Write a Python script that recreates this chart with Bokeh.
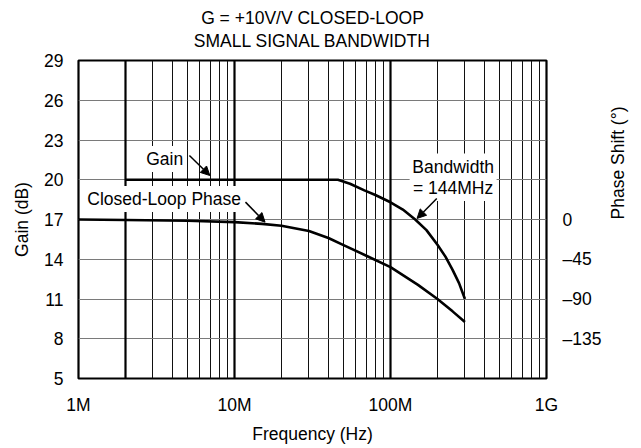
import math
from bokeh.plotting import figure
from bokeh.models import (Range1d, LinearAxis, FixedTicker, Grid, Label, Arrow,
                          NormalHead, Title)
from bokeh.embed import file_html
from bokeh.resources import INLINE

FONT = "Liberation Sans"
FS = "17.5px"

# ---- data ----
gain_freq_hz = [2e6, 5e6, 10e6, 20e6, 40e6, 46e6, 55e6, 68e6, 80e6, 100e6,
                120e6, 144e6, 170e6, 200e6, 225e6, 250e6, 275e6, 300e6]
gain_db = [20, 20, 20, 20, 20, 20, 19.7, 19.2, 18.85, 18.3,
           17.75, 17.0, 16.2, 15.1, 14.2, 13.2, 12.2, 11.0]

phase_freq_hz = [1e6, 2e6, 5e6, 10e6, 15e6, 20e6, 30e6, 40e6, 50e6, 70e6, 100e6,
                 150e6, 200e6, 250e6, 300e6]
phase_deg = [0, -0.5, -1.5, -3, -5, -7, -13, -21, -29, -41, -54,
             -74, -90, -104, -116]

x_ticks = [1e6, 1e7, 1e8, 1e9]
x_tick_labels = ["1M", "10M", "100M", "1G"]
gain_ticks = [5, 8, 11, 14, 17, 20, 23, 26, 29]
phase_ticks = [0, -45, -90, -135]
phase_tick_labels = ["0", "\u201345", "\u201390", "\u2013135"]

title_lines = ["G = +10V/V CLOSED-LOOP", "SMALL SIGNAL BANDWIDTH"]

# ---- figure ----
p = figure(width=641, height=448, x_axis_type="log",
           x_range=Range1d(1e6, 1e9), y_range=Range1d(5, 29),
           output_backend="svg", toolbar_location=None,
           min_border_left=78, min_border_right=90,
           min_border_top=60, min_border_bottom=70)
p.extra_y_ranges = {"phase": Range1d(-180, 180)}
p.background_fill_color = "white"
p.border_fill_color = "white"
p.outline_line_color = "black"
p.outline_line_width = 2.2

# two-line title (the title added later sits closer to the frame)
p.title.text = title_lines[0]
p.title.align = "center"
p.title.text_font = FONT
p.title.text_font_size = FS
p.title.text_font_style = "normal"
p.title.text_color = "black"
p.title.standoff = -19
p.add_layout(Title(text=title_lines[1], align="center", text_font=FONT,
                   text_font_size=FS, text_font_style="normal",
                   text_color="black", standoff=20), "above")

# grids
decades = [1e6, 1e7, 1e8]
thick_lines = [2e6, 1e7, 1e8]
thin_lines = [m * d for d in decades for m in range(2, 10) if m * d not in thick_lines]
p.xgrid.ticker = FixedTicker(ticks=thin_lines)
p.xgrid.grid_line_color = "#111111"
p.xgrid.grid_line_width = 1
p.add_layout(Grid(dimension=0, ticker=FixedTicker(ticks=thick_lines),
                  grid_line_color="black", grid_line_width=2.2))
p.ygrid.ticker = FixedTicker(ticks=gain_ticks[1:-1])
p.ygrid.grid_line_color = "#7a7a7a"
p.ygrid.grid_line_width = 1


def style_axis(ax):
    ax.axis_line_color = None
    ax.major_tick_line_color = None
    ax.minor_tick_line_color = None
    ax.major_tick_out = 0
    ax.major_tick_in = 0
    ax.major_label_text_font = FONT
    ax.major_label_text_font_size = FS
    ax.major_label_text_color = "black"
    ax.axis_label_text_font = FONT
    ax.axis_label_text_font_size = FS
    ax.axis_label_text_font_style = "normal"
    ax.axis_label_text_color = "black"


xa = p.xaxis[0]
xa.ticker = FixedTicker(ticks=x_ticks)
xa.major_label_overrides = dict(zip(x_ticks, x_tick_labels))
xa.axis_label = "Frequency (Hz)"
style_axis(xa)
xa.major_label_standoff = 16
xa.axis_label_standoff = 6

ya = p.yaxis[0]
ya.ticker = FixedTicker(ticks=gain_ticks)
ya.axis_label = "Gain (dB)"
style_axis(ya)
ya.major_label_standoff = 15
ya.axis_label_standoff = 9

ra = LinearAxis(y_range_name="phase", ticker=FixedTicker(ticks=phase_ticks))
ra.major_label_overrides = dict(zip(phase_ticks, phase_tick_labels))
ra.axis_label = "Phase Shift (\u00b0)"
style_axis(ra)
ra.major_label_standoff = 16
ra.axis_label_standoff = 14
try:
    ra.axis_label_orientation = math.pi / 2
except Exception:
    pass
p.add_layout(ra, "right")

# curves
p.line(gain_freq_hz, gain_db, line_color="black", line_width=2.6, line_join="round")
p.line(phase_freq_hz, phase_deg, y_range_name="phase", line_color="black",
       line_width=2.6, line_join="round")


# annotations
def add_label(x, y, text):
    p.add_layout(Label(x=x, y=y, text=text, text_font=FONT, text_font_size=FS,
                       text_color="black", text_align="center",
                       text_baseline="middle", background_fill_color="white",
                       padding=3))


add_label(3.57e6, 21.57, "Gain")
add_label(3.54e6, 18.55, "Closed-Loop Phase")
add_label(252e6, 21.0, "Bandwidth")
add_label(252e6, 19.38, "= 144MHz")


def add_arrow(x0, y0, x1, y1):
    p.add_layout(Arrow(end=NormalHead(size=9, fill_color="black", line_color="black",
                                      line_width=1),
                       x_start=x0, y_start=y0, x_end=x1, y_end=y1,
                       line_color="black", line_width=1.5))


add_arrow(5.14e6, 21.83, 6.95e6, 20.32)
add_arrow(11.76e6, 18.31, 15.7e6, 16.8)
add_arrow(198e6, 18.58, 148e6, 17.08)

open("out.html", "w").write(file_html(p, INLINE))
